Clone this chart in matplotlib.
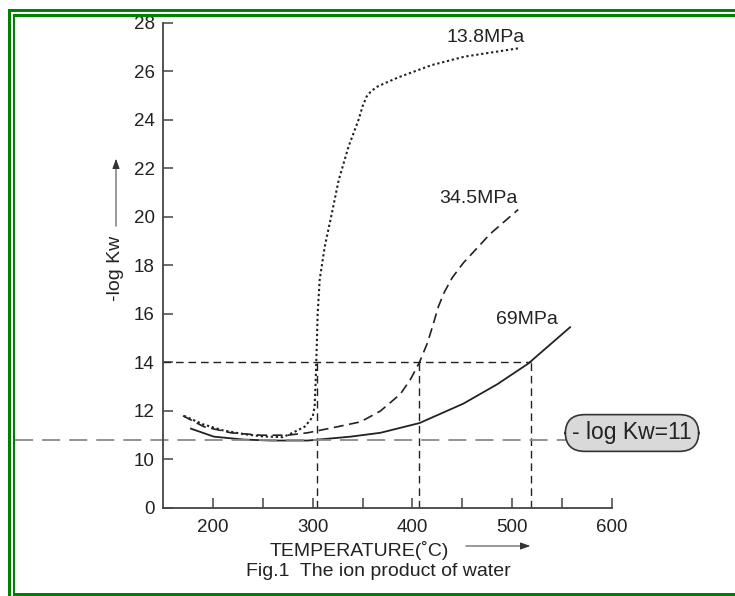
import matplotlib
matplotlib.use('Agg')
import matplotlib.pyplot as plt
from matplotlib.patches import Rectangle

plt.rcParams['font.family'] = ['Liberation Sans', 'DejaVu Sans']

# 13.8MPa (dotted)
temp_138 = [171, 190, 210, 230, 250, 270, 280, 292, 300, 302, 303, 304, 305, 307, 312, 319, 326, 336, 346, 350, 354, 358, 364, 372, 386, 419, 452, 507]
logkw_138 = [11.8, 11.45, 11.2, 11.05, 10.95, 10.92, 11.1, 11.35, 11.75, 12.2, 13.2, 14.5, 16.0, 17.4, 18.75, 20.1, 21.5, 22.9, 24.0, 24.55, 24.95, 25.15, 25.35, 25.5, 25.75, 26.25, 26.6, 26.95]

# 34.5MPa (dashed)
temp_345 = [170, 191, 218, 248, 275, 295, 325, 348, 368, 388, 398, 407, 415, 421, 426, 432, 440, 451, 478, 506]
logkw_345 = [11.8, 11.35, 11.1, 11.0, 11.0, 11.1, 11.35, 11.55, 12.0, 12.7, 13.3, 14.0, 14.8, 15.6, 16.3, 16.9, 17.5, 18.1, 19.3, 20.3]

# 69MPa (solid)
temp_69 = [178, 201, 231, 258, 295, 338, 368, 407, 451, 485, 516, 558]
logkw_69 = [11.27, 10.94, 10.82, 10.78, 10.78, 10.94, 11.1, 11.5, 12.3, 13.1, 13.95, 15.45]

# temperatures where each curve crosses -log Kw = 14
cross_temps = [304, 407, 519]
cross_level = 14
supercrit_level = 10.8

xticks = [200, 300, 400, 500, 600]
xminor = [250, 350, 450, 550]
# axis is broken below 10: "0" is drawn one step below 10
yticks = [8, 10, 12, 14, 16, 18, 20, 22, 24, 26, 28]
ylabels = ['0', '10', '12', '14', '16', '18', '20', '22', '24', '26', '28']

W, H = 735, 596


def fx(x):
    return x / W


def fy(y):
    return 1 - y / H


fig = plt.figure(figsize=(W / 100, H / 100), dpi=100)
fig.patch.set_facecolor('white')
ax = fig.add_axes([163 / W, fy(508), 449 / W, (508 - 22.7) / H])

ink = '#222222'
ax.plot(temp_138, logkw_138, color=ink, lw=1.5, dashes=(1.1, 1.3))
ax.plot(temp_345, logkw_345, color=ink, lw=1.2, dashes=(6.0, 3.3))
ax.plot(temp_69, logkw_69, color=ink, lw=1.3)

# guide lines at -log Kw = 14
ax.plot([150, cross_temps[-1]], [cross_level, cross_level], color=ink, lw=1.0, dashes=(5.5, 3.5))
for t in cross_temps:
    ax.plot([t, t], [8, cross_level], color=ink, lw=1.0, dashes=(5.5, 3.5))

ax.axhline(supercrit_level, xmin=(15 - 163) / 449, xmax=(567 - 163) / 449,
           color='#8a8a8a', lw=1.3, dashes=(10, 5), clip_on=False)

ax.set_xlim(150, 600)
ax.set_ylim(8, 28)
ax.set_xticks(xticks)
ax.set_xticks(xminor, minor=True)
ax.set_yticks(yticks)
ax.set_yticklabels(ylabels)
ax.tick_params(axis='both', which='both', direction='in', length=7, width=1.1,
               color='#444444', labelsize=13.5, labelcolor=ink)
ax.tick_params(axis='x', pad=8)
ax.tick_params(axis='y', pad=6)
for s in ['top', 'right']:
    ax.spines[s].set_visible(False)
for s in ['left', 'bottom']:
    ax.spines[s].set_color('#444444')
    ax.spines[s].set_linewidth(1.3)
ax.set_facecolor('none')

# curve labels
fig.text(fx(486), fy(37), '13.8MPa', ha='center', va='center', fontsize=14, color=ink)
fig.text(fx(478), fy(199), '34.5MPa', ha='center', va='center', fontsize=14, color=ink)
fig.text(fx(527), fy(320), '69MPa', ha='center', va='center', fontsize=14, color=ink)

fig.text(fx(632), fy(433), '- log Kw=11', ha='center', va='center', fontsize=16.5, color=ink,
         bbox=dict(boxstyle='round,pad=0.3,rounding_size=0.85', fc='#d9d9d9', ec='#333333', lw=1.2))

# axis titles with arrows
fig.text(fx(116), fy(268), '-log Kw', ha='center', va='center', rotation=90, fontsize=14, color=ink)
ax.annotate('', xy=(fx(116), fy(156)), xytext=(fx(116), fy(229)), xycoords='figure fraction',
            arrowprops=dict(arrowstyle='-|>,head_length=0.6,head_width=0.22', color='#333333', lw=0.7))
fig.text(fx(359), fy(550), 'TEMPERATURE(˚C)', ha='center', va='center', fontsize=14, color=ink)
ax.annotate('', xy=(fx(533), fy(546)), xytext=(fx(463), fy(546)), xycoords='figure fraction',
            arrowprops=dict(arrowstyle='-|>,head_length=0.6,head_width=0.22', color='#333333', lw=0.7))
fig.text(fx(378), fy(572), 'Fig.1  The ion product of water', ha='center', va='center', fontsize=14, color=ink)

# green double frame
green = '#008000'
frame = [(8, 9, W - 8, 3), (13, 14, W - 13, 3), (8, 9, 2.5, H - 9), (12.7, 14, 2.5, H - 14), (13, 593, W - 13, 3)]
for x0, y0, w, h in frame:
    fig.add_artist(Rectangle((fx(x0), fy(y0 + h)), w / W, h / H, transform=fig.transFigure,
                             color=green, lw=0))

fig.savefig('out.png', dpi=100)
